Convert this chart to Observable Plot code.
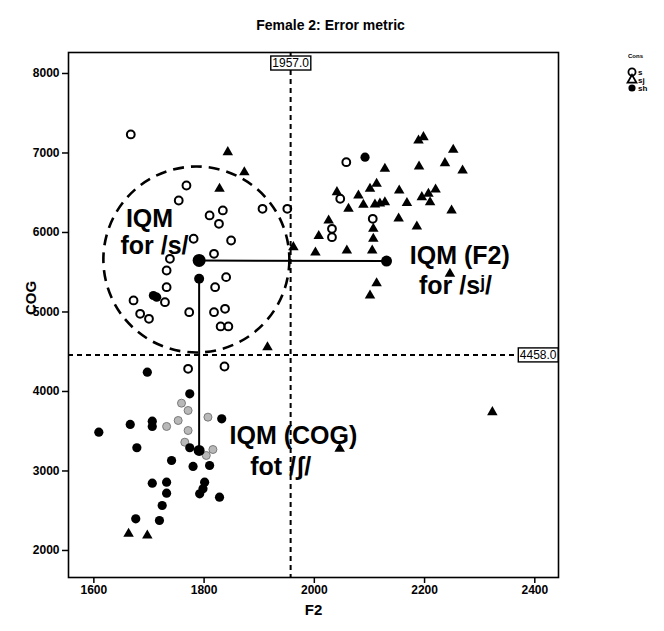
<!DOCTYPE html>
<html><head><meta charset="utf-8">
<script src="https://cdn.jsdelivr.net/npm/d3@7"></script>
<script src="https://cdn.jsdelivr.net/npm/@observablehq/plot@0.6"></script>
<style>
body{margin:0;background:#fff;}
#wrap{position:relative;width:664px;height:631px;font-family:"Liberation Sans",Arial,sans-serif;}
#legend{position:absolute;left:624px;top:49px;}
</style></head><body><div id="wrap"><div id="legend"></div></div>
<script>
// ---- data ----
const titleText = "Female 2: Error metric";
const xLabel = "F2", yLabel = "COG";
const xTicks = [1600, 1800, 2000, 2200, 2400];
const yTicks = [2000, 3000, 4000, 5000, 6000, 7000, 8000];
const legendTitle = "Cons";
const legendKeys = ["s", "sj", "sh"];

// /s/ (open circles)
const sF2  = [1667,1768,1754,1810,1834,1827,1906,1951,1781,1849,1738,1818,1732,1840,1820,1732,1729,1672,1684,1700,1773,1818,1838,1830,1844,1771,1837,2058,2047,2032,2032,2106];
const sCOG = [7233,6591,6402,6214,6277,6109,6298,6298,5921,5899,5669,5732,5522,5438,5312,5312,5123,5145,4977,4914,4997,4997,5040,4818,4818,4285,4314,6884,6424,6046,5941,6172];
// /sj/ (triangles)
const sjF2  = [2189,2198,2252,2128,2190,2237,2269,2113,2101,2041,2154,2080,2062,2089,2110,2119,2128,2168,2195,2207,2220,2210,2249,2153,2026,2186,2008,2107,2107,2002,2059,2105,2246,2113,2101,1962,1843,1873,1828,1915,2323,2046,1663,1697];
const sjCOG = [7157,7199,7040,6801,6830,6872,6780,6613,6550,6507,6528,6465,6298,6348,6352,6365,6381,6371,6444,6487,6541,6381,6277,6176,6151,6075,5956,6046,5921,5748,5774,5774,5480,5362,5207,5815,7010,6758,6550,4557,3740,3279,2210,2188];
// /sh/ (filled circles)
const shF2  = [1697,1774,1832,1706,1706,1666,1609,1774,1678,1741,1780,1810,1706,1732,1732,1801,1798,1792,1828,1724,1676,1719,1708,1714,2092];
const shCOG = [4243,3971,3656,3626,3560,3585,3488,3292,3292,3132,3057,3069,2846,2859,2721,2859,2776,2713,2670,2566,2398,2377,5207,5186,6947];
// overlapping, grey-rendered tokens in the /sh/ cluster
const shadeF2  = [1759,1771,1807,1753,1732,1771,1765,1816,1804];
const shadeCOG = [3853,3761,3677,3635,3560,3509,3362,3270,3195];

// reference values
const refF2 = 1957.0, refCOG = 4458.0;
// IQM points: s (F2 & COG), s COG, sj, sh
const iqmF2  = [1791, 1791, 2131, 1791];
const iqmCOG = [5648, 5418, 5640, 3258];
// dashed ring around /s/ cluster
const ringF2 = [1786], ringCOG = [5660];
// annotations
const annoText = ["IQM", "for /s/", "IQM (F2)", "for /sʲ/", "IQM (COG)", "fot /ʃ/"];
const annoF2   = [1701, 1710, 2264, 2256, 1962, 1939];
const annoCOG  = [6170, 5824, 5710, 5330, 3446, 3050];

// ---- build ----
const rows = (xs, ys) => xs.map((x, i) => ({F2: x, COG: ys[i]}));
const sRows = rows(sF2, sCOG), sjRows = rows(sjF2, sjCOG), shRows = rows(shF2, shCOG), shadeRows = rows(shadeF2, shadeCOG);
const iqm = rows(iqmF2, iqmCOG);
const ring = rows(ringF2, ringCOG);
const anno = annoText.map((t, i) => ({t, F2: annoF2[i], COG: annoCOG[i]}));
const hLink = [{x1: iqm[0].F2, y1: iqm[0].COG, x2: iqm[2].F2, y2: iqm[2].COG}];
const vLink = [{x1: iqm[1].F2, y1: iqm[1].COG, x2: iqm[3].F2, y2: iqm[3].COG}];
const FONT = "'Liberation Sans', Arial, Helvetica, sans-serif";

const chart = Plot.plot({
  width: 664, height: 631,
  marginTop: 52, marginRight: 106, marginBottom: 54, marginLeft: 68,
  x: {domain: [1554, 2443]},
  y: {domain: [1660, 8264]},
  style: {fontFamily: FONT, fontSize: "12px", fontWeight: "bold", background: "white", color: "black"},
  marks: [
    Plot.ruleX([refF2], {stroke: "black", strokeWidth: 2, strokeDasharray: "5,4"}),
    Plot.ruleY([refCOG], {stroke: "black", strokeWidth: 2, strokeDasharray: "5,4"}),
    Plot.dot(ring, {x: "F2", y: "COG", r: 93, fill: "none", stroke: "black", strokeWidth: 2.6, strokeDasharray: "11,7"}),
    Plot.dot(shadeRows, {x: "F2", y: "COG", r: 4, fill: "#b8b8b8", stroke: "#7a7a7a", strokeWidth: 1}),
    Plot.dot(shRows, {x: "F2", y: "COG", r: 4.6, fill: "black", stroke: "none"}),
    Plot.dot(sjRows, {x: "F2", y: "COG", symbol: "triangle", r: 3.9, fill: "black", stroke: "none"}),
    Plot.dot(sRows, {x: "F2", y: "COG", r: 3.9, fill: "none", stroke: "black", strokeWidth: 2}),
    Plot.link(hLink, {x1: "x1", y1: "y1", x2: "x2", y2: "y2", stroke: "black", strokeWidth: 2}),
    Plot.link(vLink, {x1: "x1", y1: "y1", x2: "x2", y2: "y2", stroke: "black", strokeWidth: 2}),
    Plot.dot([iqm[0]], {x: "F2", y: "COG", r: 6.5, fill: "black"}),
    Plot.dot([iqm[1]], {x: "F2", y: "COG", r: 5, fill: "black"}),
    Plot.dot([iqm[2]], {x: "F2", y: "COG", r: 5.5, fill: "black"}),
    Plot.dot([iqm[3]], {x: "F2", y: "COG", r: 5.5, fill: "black"}),
    Plot.text(anno, {x: "F2", y: "COG", text: "t", fontSize: 25, fontWeight: "bold", fill: "black"}),
    Plot.text([refF2.toFixed(1)], {x: () => refF2, frameAnchor: "top", dy: 6, fontSize: 12, fontWeight: "normal", fill: "black"}),
    Plot.text([refCOG.toFixed(1)], {y: () => refCOG, frameAnchor: "right", textAnchor: "end", dx: -2, fontSize: 12, fontWeight: "normal", fill: "black"}),
    Plot.axisX({ticks: xTicks, tickSize: 6, tickPadding: 2, tickFormat: d => String(d), label: null, strokeWidth: 1.5}),
    Plot.axisY({ticks: yTicks, tickSize: 6, tickPadding: 3, tickFormat: d => String(d), label: null, strokeWidth: 1.5}),
    Plot.frame({stroke: "black", strokeWidth: 1.6}),
    Plot.text([titleText], {frameAnchor: "top", dy: -32, dx: 17, fontSize: 14, fontWeight: "bold", fill: "black"}),
    Plot.text([yLabel], {frameAnchor: "left", dx: -37, rotate: -90, fontSize: 15, fontWeight: "bold", fill: "black"}),
    Plot.text([xLabel], {frameAnchor: "bottom", dy: 37, fontSize: 15, fontWeight: "bold", fill: "black"})
  ]
});
document.getElementById("wrap").prepend(chart);

// boxes around reference value labels
d3.select(chart).selectAll("text").each(function() {
  const t = this.textContent;
  if (t === refF2.toFixed(1) || t === refCOG.toFixed(1)) {
    const b = this.getBBox();
    const r = document.createElementNS("http://www.w3.org/2000/svg", "rect");
    r.setAttribute("x", b.x - 1.5); r.setAttribute("y", b.y);
    r.setAttribute("width", b.width + 3); r.setAttribute("height", b.height);
    r.setAttribute("fill", "white"); r.setAttribute("stroke", "black"); r.setAttribute("stroke-width", 1.4);
    const tr = this.getAttribute("transform"); if (tr) r.setAttribute("transform", tr);
    this.parentNode.insertBefore(r, this);
  }
});

// legend
const lg = d3.select("#legend").append("svg").attr("width", 40).attr("height", 48)
  .style("font-family", FONT).style("font-weight", "bold");
lg.append("text").attr("x", 4).attr("y", 9).attr("font-size", 6).text(legendTitle);
const symFns = [d3.symbolCircle, d3.symbolTriangle, d3.symbolCircle];
legendKeys.forEach((k, i) => {
  const g = lg.append("g").attr("transform", `translate(8,${23 + i * 8})`);
  const p = g.append("path").attr("d", d3.symbol(symFns[i], i === 1 ? 34 : 40)());
  if (i === 2) p.attr("fill", "black");
  else p.attr("fill", "none").attr("stroke", "black").attr("stroke-width", 1.8);
  lg.append("text").attr("x", 14).attr("y", 26 + i * 8).attr("font-size", 8).text(k);
});
</script>
</body></html>
